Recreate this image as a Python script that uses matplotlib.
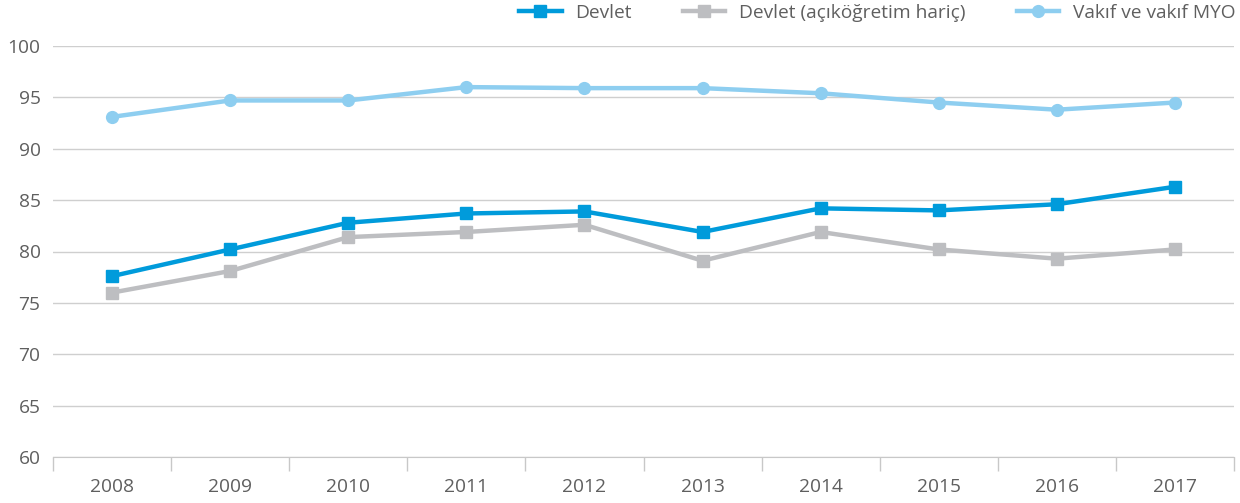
import numpy as np
import matplotlib.pyplot as plt

# DATA
years = ['2008', '2009', '2010', '2011', '2012', '2013', '2014', '2015', '2016', '2017']
devlet = [77.6, 80.2, 82.8, 83.7, 83.9, 81.9, 84.2, 84.0, 84.6, 86.3]
devlet_haric = [76.0, 78.1, 81.4, 81.9, 82.6, 79.1, 81.9, 80.2, 79.3, 80.2]
vakif = [93.1, 94.7, 94.7, 96.0, 95.9, 95.9, 95.4, 94.5, 93.8, 94.5]
yticks = [60, 65, 70, 75, 80, 85, 90, 95, 100]

plt.rcParams['font.family'] = ['Open Sans', 'DejaVu Sans']
txt = '#5f5f5f'

fig = plt.figure(figsize=(12.4, 5.03), dpi=100)
ax = fig.add_axes([53 / 1240, 1 - 457 / 503, (1234 - 53) / 1240, (457 - 46) / 503])

x = np.arange(len(years))
ax.plot(x, devlet, color='#009BDB', lw=3.2, marker='s', ms=8.5, label='Devlet', zorder=4)
ax.plot(x, devlet_haric, color='#BDBEC1', lw=3.2, marker='s', ms=8.5, label='Devlet (açıköğretim hariç)', zorder=3)
ax.plot(x, vakif, color='#8ECEF0', lw=3.2, marker='o', ms=8.5, label='Vakıf ve vakıf MYO', zorder=3)

ax.set_xlim(-0.5, len(years) - 0.5)
ax.set_ylim(60, 100)
ax.set_yticks(yticks)
ax.set_xticks(x)
ax.set_xticklabels(years)
ax.set_xticks(np.arange(-0.5, len(years)), minor=True)
ax.tick_params(axis='x', which='major', length=0, pad=15, labelsize=13.8, labelcolor=txt)
ax.tick_params(axis='x', which='minor', length=10, color='#c8c8c8', width=1)
ax.tick_params(axis='y', length=0, pad=9, labelsize=13.8, labelcolor=txt)

ax.grid(axis='y', color='#cfcfcf', lw=1)
ax.set_axisbelow(True)
for s in ['top', 'right', 'left']:
    ax.spines[s].set_visible(False)
ax.spines['bottom'].set_color('#c8c8c8')

fig.legend(loc='upper right', bbox_to_anchor=(1.01, 1.027), ncol=3, frameon=False,
           fontsize=13.8, labelcolor=txt, handlelength=2.2, columnspacing=2.7,
           handletextpad=0.7)

plt.savefig('out.png', dpi=100)
